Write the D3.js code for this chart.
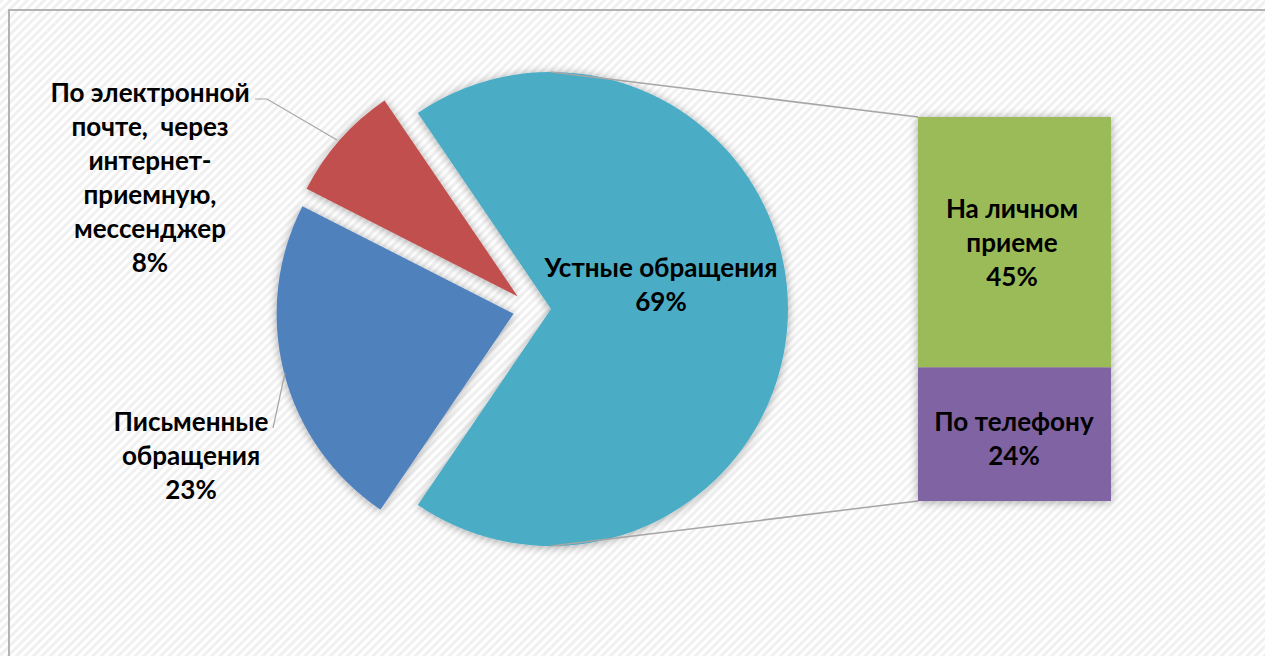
<!DOCTYPE html>
<html><head><meta charset="utf-8">
<script src="https://cdn.jsdelivr.net/npm/d3@7"></script>
<style>
html,body{margin:0;padding:0;background:#fff;overflow:hidden}
svg{display:block}
text{font-family:"Lato","Open Sans","Noto Sans",sans-serif;font-weight:700;fill:#000;white-space:pre}
</style></head>
<body>
<script>
// ---- data ----
const pieCategories = ["Устные обращения", "Письменные обращения", "По электронной почте,  через интернет-приемную, мессенджер"];
const pieValues = [69, 23, 8];
const pieLabelLines = [
  ["Устные обращения", "69%"],
  ["Письменные", "обращения", "23%"],
  ["По электронной", "почте,  через", "интернет-", "приемную,", "мессенджер", "8%"]
];
const barCategories = ["На личном приеме", "По телефону"];
const barValues = [45, 24];
const barLabelLines = [
  ["На личном", "приеме", "45%"],
  ["По телефону", "24%"]
];
const pieColors = ["#4BACC6", "#4F81BD", "#C0504D"];
const barColors = ["#9BBB59", "#8064A2"];

const W = 1265, H = 656;
const svg = d3.select("body").append("svg").attr("width", W).attr("height", H);
const defs = svg.append("defs");

// background stripes
const pat = defs.append("pattern").attr("id", "stripes").attr("patternUnits", "userSpaceOnUse")
  .attr("width", 6).attr("height", 6).attr("patternTransform", "rotate(-45)");
pat.append("rect").attr("width", 6).attr("height", 6).attr("fill", "#ffffff");
pat.append("rect").attr("width", 6).attr("height", 3).attr("fill", "#f0f0f0");

const f = defs.append("filter").attr("id", "shadow").attr("x", "-20%").attr("y", "-20%").attr("width", "140%").attr("height", "140%");
f.append("feGaussianBlur").attr("in", "SourceAlpha").attr("stdDeviation", 5).attr("result", "b");
f.append("feOffset").attr("in", "b").attr("dx", 0).attr("dy", 1).attr("result", "o");
f.append("feComponentTransfer").attr("in", "o").attr("result", "s")
  .append("feFuncA").attr("type", "linear").attr("slope", 0.35);
const fm = f.append("feMerge");
fm.append("feMergeNode").attr("in", "s");
fm.append("feMergeNode").attr("in", "SourceGraphic");

svg.append("rect").attr("width", W).attr("height", H).attr("fill", "url(#stripes)");
svg.append("rect").attr("x", 9).attr("y", 10).attr("width", W + 20).attr("height", H + 20)
  .attr("fill", "none").attr("stroke", "#b3b3b3").attr("stroke-width", 2);

// font size calibrated to reference label width
const probe = svg.append("text").attr("font-size", 20).text(pieLabelLines[0][0]);
const fs = 20 * 233 / probe.node().getComputedTextLength();
probe.remove();
const lineH = 34;

// ---- pie ----
const cx = 532, cy = 309, R = 237, explode = 19;
const span = pieValues[0] / d3.sum(pieValues) * 2 * Math.PI;
const pie = d3.pie().sort(null).value(d => d)
  .startAngle(Math.PI / 2 - span / 2).endAngle(Math.PI / 2 - span / 2 + 2 * Math.PI);
const arcs = pie(pieValues);
const arc = d3.arc().innerRadius(0).outerRadius(R);
const off = a => { const m = (a.startAngle + a.endAngle) / 2; return [explode * Math.sin(m), -explode * Math.cos(m)]; };

const pg = svg.append("g").attr("transform", `translate(${cx},${cy})`);
pg.selectAll("path").data(arcs).join("path")
  .attr("transform", d => `translate(${off(d)})`)
  .attr("d", arc).attr("fill", (d, i) => pieColors[i]).attr("filter", "url(#shadow)");

// ---- bar ----
const barX = 918, barW = 193;
const y = d3.scaleLinear().domain([0, d3.sum(barValues)]).range([501, 117]);
const stackVals = [];
let acc = 0;
for (let i = barValues.length - 1; i >= 0; i--) { stackVals[i] = [acc, acc + barValues[i]]; acc += barValues[i]; }

// connector lines
const tealOff = off(arcs[0]);
svg.append("line").attr("x1", cx + tealOff[0]).attr("y1", cy + tealOff[1] - R).attr("x2", barX).attr("y2", y(acc))
  .attr("stroke", "#a6a6a6").attr("stroke-width", 1.5);
svg.append("line").attr("x1", cx + tealOff[0]).attr("y1", cy + tealOff[1] + R).attr("x2", barX).attr("y2", y(0))
  .attr("stroke", "#a6a6a6").attr("stroke-width", 1.5);

const bg = svg.append("g").attr("filter", "url(#shadow)");
bg.selectAll("rect").data(barValues).join("rect")
  .attr("x", barX).attr("width", barW)
  .attr("y", (d, i) => y(stackVals[i][1]))
  .attr("height", (d, i) => y(stackVals[i][0]) - y(stackVals[i][1]))
  .attr("fill", (d, i) => barColors[i]);

// leader lines
svg.append("polyline").attr("points", "255,99 267,99 337,140").attr("fill", "none").attr("stroke", "#a6a6a6").attr("stroke-width", 1.2);
svg.append("line").attr("x1", 273).attr("y1", 428).attr("x2", 285).attr("y2", 373).attr("stroke", "#a6a6a6").attr("stroke-width", 1.2);

// labels
function label(lines, x, yFirst) {
  const t = svg.append("text").attr("text-anchor", "middle").attr("font-size", fs);
  lines.forEach((l, i) => t.append("tspan").attr("x", x).attr("y", yFirst + i * lineH).attr("dy", "0.35em").text(l));
}
label(pieLabelLines[0], 661, 268);
label(pieLabelLines[1], 191, 422);
label(pieLabelLines[2], 150, 93);
label(barLabelLines[0], 1012, 209);
label(barLabelLines[1], 1014, 422);
</script>
</body></html>
